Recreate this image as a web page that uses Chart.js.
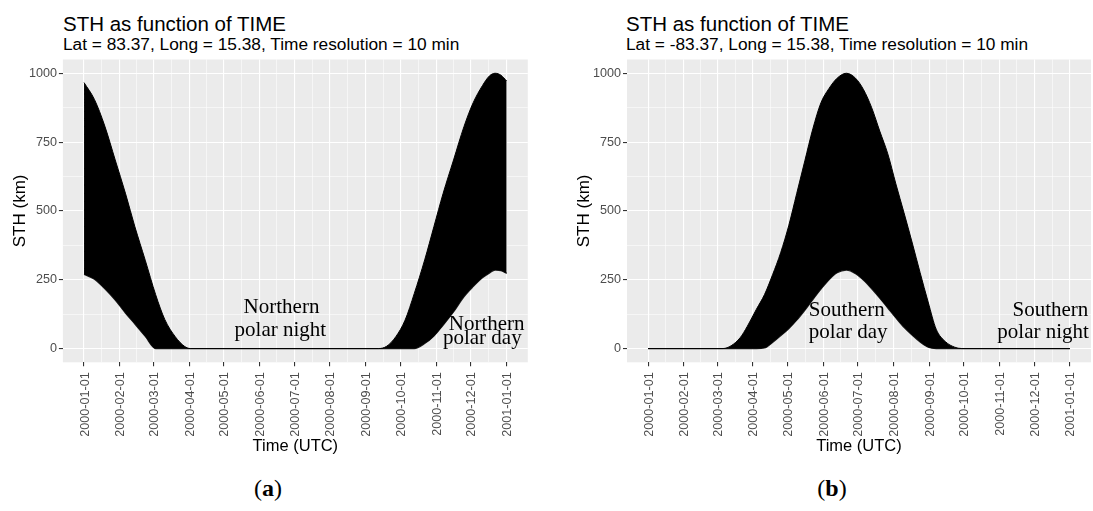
<!DOCTYPE html>
<html>
<head>
<meta charset="utf-8">
<script src="https://cdn.jsdelivr.net/npm/chart.js@4.4.0/dist/chart.umd.min.js"></script>
<style>
  body { margin: 0; background: #fff; width: 1093px; height: 511px; position: relative; overflow: hidden; font-family: "Liberation Sans", Arial, sans-serif; }
  canvas { position: absolute; top: 0; }
  .title { position: absolute; top: 14px; font-size: 20.5px; line-height: 20px; white-space: nowrap; }
  .sub { position: absolute; top: 36px; font-size: 17.3px; line-height: 17px; white-space: nowrap; }
  .tag { position: absolute; top: 476px; width: 100px; text-align: center; font-family: "Liberation Serif", serif; font-size: 24px; line-height: 24px; }
</style>
</head>
<body>
<div class="title" style="left:63px">STH as function of TIME</div>
<div class="sub" style="left:63px">Lat = 83.37, Long = 15.38, Time resolution = 10 min</div>
<div class="title" style="left:626px">STH as function of TIME</div>
<div class="sub" style="left:626px">Lat = -83.37, Long = 15.38, Time resolution = 10 min</div>
<canvas id="north" width="546" height="470" style="left:0"></canvas>
<canvas id="south" width="547" height="470" style="left:546px"></canvas>
<div class="tag" style="left:218px">(<b>a</b>)</div>
<div class="tag" style="left:782px">(<b>b</b>)</div>
<script>
// day of year 2000 (0 = 2000-01-01, 366 = 2001-01-01)
const monthDays = [0, 31, 60, 91, 121, 152, 182, 213, 244, 274, 305, 335, 366];
const monthLabels = ['2000-01-01', '2000-02-01', '2000-03-01', '2000-04-01', '2000-05-01', '2000-06-01',
  '2000-07-01', '2000-08-01', '2000-09-01', '2000-10-01', '2000-11-01', '2000-12-01', '2001-01-01'];
const yBreaks = [0, 250, 500, 750, 1000];

// (a) Lat 83.37 : daily max / min of STH (km)
const northDays  = [0, 9, 18, 27, 36, 44, 53, 62, 70, 79, 87, 92, 150, 200, 255, 262, 270, 278, 286, 295, 303, 311, 320, 329, 337, 345, 351, 356, 361, 366];
const northUpper = [966, 905, 808, 685, 562, 443, 321, 196, 105, 43, 8, 0, 0, 0, 0, 8, 43, 103, 200, 322, 443, 564, 685, 806, 893, 955, 990, 1000, 993, 972];
const northLower = [269, 252, 217, 176, 128, 89, 44, 0, 0, 0, 0, 0, 0, 0, 0, 0, 0, 0, 0, 18, 45, 85, 133, 188, 225, 257, 274, 285, 283, 273];

// (b) Lat -83.37
const southDays  = [0, 65, 72, 80, 86, 94, 101, 108, 115, 122, 129, 136, 143, 150, 157, 164, 172, 180, 187, 194, 201, 208, 215, 222, 229, 236, 243, 250, 258, 266, 272, 366];
const southUpper = [0, 0, 10, 40, 80, 143, 196, 268, 348, 446, 564, 682, 799, 893, 945, 982, 1000, 982, 940, 875, 790, 707, 598, 494, 387, 276, 169, 70, 25, 5, 0, 0];
const southLower = [0, 0, 0, 0, 0, 0, 2, 22, 46, 72, 103, 139, 178, 216, 250, 275, 285, 272, 248, 217, 183, 147, 111, 77, 49, 24, 5, 0, 0, 0, 0, 0];

const panelBg = {
  id: 'panelBg',
  beforeDraw(chart) {
    const { ctx, chartArea: a } = chart;
    ctx.save();
    ctx.fillStyle = '#ebebeb';
    ctx.fillRect(a.left, a.top, a.right - a.left, a.bottom - a.top);
    ctx.restore();
  }
};

const notes = {
  id: 'notes',
  afterDatasetsDraw(chart, args, opts) {
    const { ctx, scales: { x, y } } = chart;
    ctx.save();
    ctx.font = '21px "Liberation Serif"';
    ctx.fillStyle = '#000';
    for (const n of opts.items) {
      ctx.textAlign = n.align;
      ctx.fillText(n.text, x.getPixelForValue(n.x), y.getPixelForValue(n.y));
    }
    ctx.restore();
  }
};

function pts(days, vals) { return days.map((d, i) => ({ x: d, y: vals[i] })); }

function makeChart(id, days, upper, lower, padLeft, padRight, items) {
  const isMajorX = v => monthDays.includes(v);
  const isMajorY = v => yBreaks.includes(v);
  new Chart(document.getElementById(id), {
    type: 'line',
    data: {
      datasets: [
        { data: pts(days, upper), fill: '+1', backgroundColor: '#000', borderColor: '#000', borderWidth: 1, pointRadius: 0, cubicInterpolationMode: 'monotone' },
        { data: pts(days, lower), fill: false, borderColor: '#222', borderWidth: 1.2, pointRadius: 0, cubicInterpolationMode: 'monotone' }
      ]
    },
    options: {
      responsive: false, animation: false, devicePixelRatio: 1, events: [],
      layout: { padding: { left: padLeft, right: padRight, top: 59.5, bottom: 0 } },
      plugins: { legend: { display: false }, tooltip: { enabled: false }, notes: { items } },
      scales: {
        x: {
          type: 'linear', min: -18.3, max: 384.3,
          afterBuildTicks: s => {
            const t = monthDays.map(v => ({ value: v }));
            for (let i = 0; i < monthDays.length - 1; i++) t.push({ value: (monthDays[i] + monthDays[i + 1]) / 2 });
            s.ticks = t.sort((a, b) => a.value - b.value);
          },
          afterFit: s => { s.height = 107.7; },
          border: { display: false },
          grid: {
            color: '#fff', tickLength: 4, tickWidth: 1.1,
            lineWidth: c => isMajorX(c.tick.value) ? 1.1 : 0.55,
            tickColor: c => isMajorX(c.tick.value) ? '#333' : 'rgba(0,0,0,0)'
          },
          ticks: {
            autoSkip: false, minRotation: 90, maxRotation: 90, padding: 6, labelOffset: 1,
            color: '#4d4d4d', font: { family: 'Liberation Sans', size: 12.6 },
            callback: v => { const i = monthDays.indexOf(v); return i >= 0 ? monthLabels[i] : ''; }
          },
          title: { display: true, text: 'Time (UTC)', color: '#000', font: { family: 'Liberation Sans', size: 16.5 }, padding: { top: 0, bottom: 14 } }
        },
        y: {
          type: 'linear', min: -50, max: 1050,
          afterBuildTicks: s => {
            const t = [];
            for (let v = 0; v <= 1000; v += 125) t.push({ value: v });
            s.ticks = t;
          },
          afterFit: s => { s.width = 62.9; },
          border: { display: false },
          grid: {
            color: '#fff', tickLength: 4, tickWidth: 1.1,
            lineWidth: c => isMajorY(c.tick.value) ? 1.1 : 0.55,
            tickColor: c => isMajorY(c.tick.value) ? '#333' : 'rgba(0,0,0,0)'
          },
          ticks: {
            padding: 2, color: '#4d4d4d', font: { family: 'Liberation Sans', size: 12.6 },
            callback: v => isMajorY(v) ? String(v) : ''
          },
          title: { display: true, text: 'STH (km)', color: '#000', font: { family: 'Liberation Sans', size: 17 }, padding: { top: 10, bottom: 0 } }
        }
      }
    },
    plugins: [panelBg, notes]
  });
}

makeChart('north', northDays, northUpper, northLower, 0, 18.2, [
  { text: 'Northern', x: 171, y: 130, align: 'center' },
  { text: 'polar night', x: 170, y: 45, align: 'center' },
  { text: 'Northern', x: 381.5, y: 69, align: 'right' },
  { text: 'polar day', x: 379, y: 16, align: 'right' }
]);
makeChart('south', southDays, southUpper, southLower, 18.1, 2, [
  { text: 'Southern', x: 139.5, y: 119, align: 'left' },
  { text: 'polar day', x: 139.5, y: 39, align: 'left' },
  { text: 'Southern', x: 382, y: 119, align: 'right' },
  { text: 'polar night', x: 382.5, y: 39, align: 'right' }
]);
</script>
</body>
</html>
